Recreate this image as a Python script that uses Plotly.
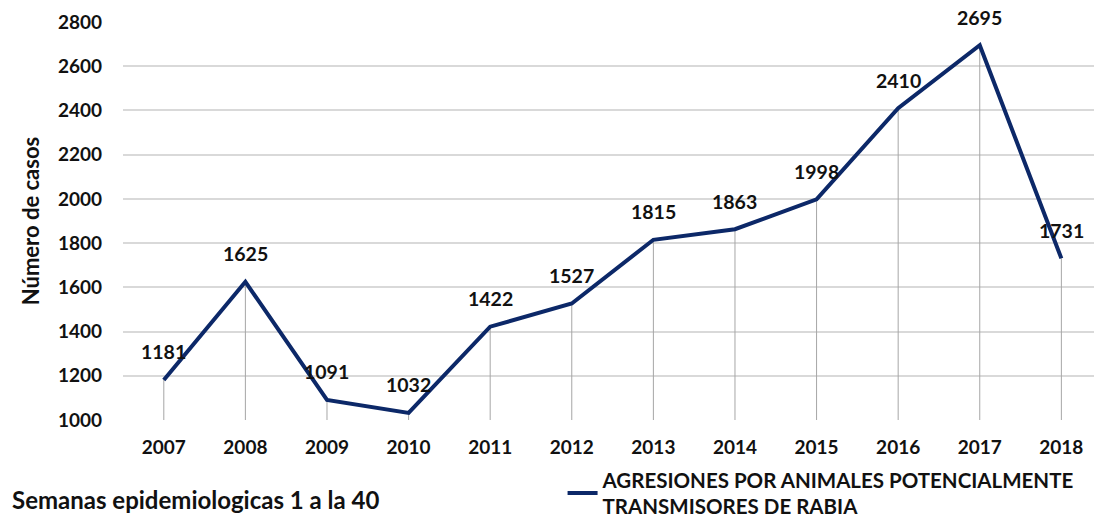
import plotly.graph_objects as go

years = ['2007', '2008', '2009', '2010', '2011', '2012',
         '2013', '2014', '2015', '2016', '2017', '2018']
cases = [1181, 1625, 1091, 1032, 1422, 1527, 1815, 1863, 1998, 2410, 2695, 1731]
y_ticks = [1000, 1200, 1400, 1600, 1800, 2000, 2200, 2400, 2600, 2800]

series_name = 'AGRESIONES POR ANIMALES POTENCIALMENTE<br>TRANSMISORES DE RABIA'
navy = '#0c2868'
base = 1000
font_family = 'Lato, Open Sans, sans-serif'

fig = go.Figure()

# Drop lines from each point down to the axis
fig.add_trace(go.Scatter(
    x=years, y=cases, mode='markers',
    marker=dict(size=0.1, color='rgba(0,0,0,0)'),
    error_y=dict(type='data', symmetric=False,
                 array=[0] * len(cases),
                 arrayminus=[c - base for c in cases],
                 color='#a6a6a6', thickness=1, width=0),
    showlegend=False, hoverinfo='skip'))

fig.add_trace(go.Scatter(
    x=years, y=cases, mode='lines',
    line=dict(color=navy, width=4),
    name=series_name))

# Value labels (x given as category index)
for i, c in enumerate(cases):
    fig.add_annotation(x=i, y=c, xref='x', yref='y', text=str(c), showarrow=False,
                       yshift=28, font=dict(size=19.5, color='#111111',
                                            family=font_family, weight='bold'))

fig.add_annotation(xref='paper', yref='paper', x=-0.1164, y=-0.201,
                   xanchor='left', yanchor='middle', showarrow=False,
                   text='Semanas epidemiologicas 1 a la 40',
                   font=dict(size=24, color='#111111', family=font_family, weight='bold'))

fig.update_layout(
    width=1094, height=519,
    margin=dict(l=123, r=0, t=22, b=99, autoexpand=False),
    paper_bgcolor='white', plot_bgcolor='white',
    font=dict(family=font_family, size=16, color='#111111'),
    showlegend=True,
    legend=dict(orientation='h', x=0.4527, y=-0.1, xanchor='left', yanchor='top',
                font=dict(size=20.5, color='#111111', family=font_family, weight='bold'),
                bgcolor='rgba(0,0,0,0)'),
    xaxis=dict(type='category', range=[-0.5, 11.4], showgrid=False,
               showline=False, ticks='', zeroline=False,
               tickfont=dict(size=19, weight='bold'), ticklabelstandoff=14),
    yaxis=dict(range=[1000, 2800], tickvals=y_ticks, showgrid=True,
               gridcolor='#d9d9d9', gridwidth=1.5, zeroline=False,
               showline=False, ticks='',
               tickfont=dict(size=19, weight='bold'), ticklabelstandoff=20,
               title=dict(text='Número de casos', standoff=12,
                          font=dict(size=22, weight='bold'))),
)

# drop the default page margin so the figure sits at the window's corner
fig.write_html('out.html', config={'displayModeBar': False},
               post_script="document.body.style.margin='0';")
